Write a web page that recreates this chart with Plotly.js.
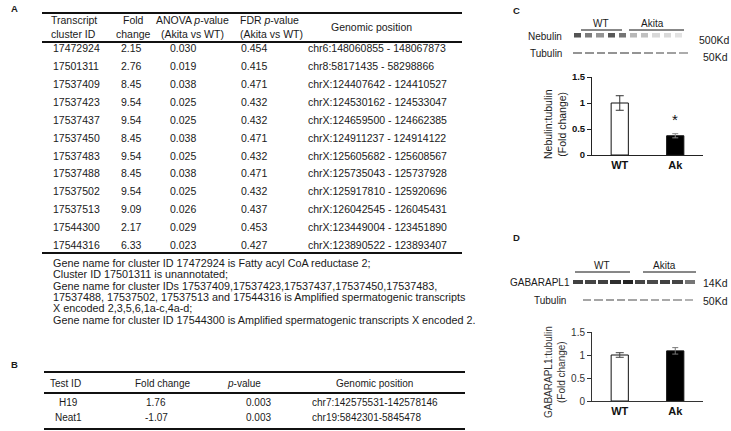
<!DOCTYPE html>
<html><head><meta charset="utf-8">
<script src="https://cdn.plot.ly/plotly-3.0.1.min.js"></script>
<style>html,body{margin:0;padding:0;background:#fff}#chart{width:731px;height:431px}</style>
</head><body><div id="chart"></div>
<script>
// ---------- Panel A table data ----------
const headerA = ['Transcript<br>cluster ID', 'Fold<br>change', 'ANOVA <i>p</i>-value<br>(Akita vs WT)', 'FDR <i>p</i>-value<br>(Akita vs WT)', 'Genomic position'];
const clusterIds = ['17472924','17501311','17537409','17537423','17537437','17537450','17537483','17537488','17537502','17537513','17544300','17544316'];
const foldChanges = ['2.15','2.76','8.45','9.54','9.54','8.45','9.54','8.45','9.54','9.09','2.17','6.33'];
const anovaP = ['0.030','0.019','0.038','0.025','0.025','0.038','0.025','0.038','0.025','0.026','0.029','0.023'];
const fdrP = ['0.454','0.415','0.471','0.432','0.432','0.471','0.432','0.471','0.432','0.437','0.453','0.427'];
const genomicPos = ['chr6:148060855 - 148067873','chr8:58171435 - 58298866','chrX:124407642 - 124410527','chrX:124530162 - 124533047','chrX:124659500 - 124662385','chrX:124911237 - 124914122','chrX:125605682 - 125608567','chrX:125735043 - 125737928','chrX:125917810 - 125920696','chrX:126042545 - 126045431','chrX:123449004 - 123451890','chrX:123890522 - 123893407'];
const footnotesA = [
  'Gene name for cluster ID 17472924 is Fatty acyl CoA reductase 2;',
  'Cluster ID 17501311 is unannotated;',
  'Gene name for cluster IDs 17537409,17537423,17537437,17537450,17537483,',
  '17537488, 17537502, 17537513 and 17544316 is Amplified spermatogenic transcripts',
  'X encoded 2,3,5,6,1a-c,4a-d;',
  'Gene name for cluster ID 17544300 is Amplified spermatogenic transcripts X encoded 2.'
];
// ---------- Panel B table data ----------
const headerB = ['Test ID', 'Fold change', '<i>p</i>-value', 'Genomic position'];
const testIds = ['H19','Neat1'];
const foldB = ['1.76','-1.07'];
const pB = ['0.003','0.003'];
const posB = ['chr7:142575531-142578146','chr19:5842301-5845478'];
// ---------- Panels C / D bar data ----------
const groups = ['WT','Ak'];
const nebulinRatio = [1.0, 0.37];
const nebulinErr = [0.14, 0.04];
const gabaRatio = [1.0, 1.09];
const gabaErr = [0.05, 0.07];
// ---------- Blot band intensities (0 = none, 1 = black) ----------
const nebulinBands = [0.72,0.55,0.45,0.7,0.58, 0.3,0.26,0.16,0.16,0.12];
const tubulinCBands = [0.45,0.45,0.45,0.45,0.45,0.45,0.42,0.4,0.4,0.35];
const gabaBands = [0.8,0.78,0.8,0.88,0.92,0.78,0.76,0.8,0.78,0.58];
const tubulinDBands = [0.38,0.38,0.4,0.4,0.38,0.38,0.36,0.36,0.36,0.32];

const W = 731, H = 431;
const px = x => x / W;
const py = y => 1 - y / H;
const FONT = 'Liberation Sans, Arial, sans-serif';
const TXT = '#1a1a1a';

const annotations = [];
const shapes = [];
function txt(x, y, text, size, anchor, extra) {
  annotations.push(Object.assign({xref:'paper', yref:'paper', x:px(x), y:py(y), text:text, showarrow:false,
    xanchor:anchor||'left', yanchor:'middle', font:{family:FONT, size:size, color:TXT}}, extra||{}));
}
function rule(x0, x1, y, w) {
  shapes.push({type:'line', xref:'paper', yref:'paper', x0:px(x0), x1:px(x1), y0:py(y), y1:py(y), line:{color:'#111', width:w}});
}

// Panel labels
txt(9, 8, '<b>A</b>', 9.5, 'left');
txt(9, 364, '<b>B</b>', 9.5, 'left');
txt(511, 10, '<b>C</b>', 9.5, 'left');
txt(511, 238, '<b>D</b>', 9.5, 'left');

// ---- Table A ----
rule(42, 462, 13, 1.8);
rule(42, 462, 42, 1.8);
rule(42, 462, 253, 1.8);
const fA = 10.5;
txt(49, 27.5, headerA[0], fA, 'left', {align:'left'});
txt(133, 27.5, headerA[1], fA, 'center');
txt(192, 27.5, headerA[2], fA, 'center');
txt(238, 27.5, headerA[3], fA, 'left', {align:'left'});
txt(371, 27.5, headerA[4], fA, 'center');
const rowY0 = 48.5, rowStep = 17.85;
clusterIds.forEach((id, i) => {
  const y = rowY0 + i * rowStep;
  txt(51, y, id, fA, 'left');
  txt(131, y, foldChanges[i], fA, 'center');
  txt(183, y, anovaP[i], fA, 'center');
  txt(239, y, fdrP[i], fA, 'left');
  txt(306, y, genomicPos[i], fA, 'left');
});
footnotesA.forEach((t, i) => txt(51, 263 + i * 11.3, t, 10.8, 'left'));

// ---- Table B ----
rule(44, 465, 372, 1.8);
rule(44, 465, 393, 1.8);
rule(44, 465, 429, 1.8);
const fB = 10;
txt(48, 383, headerB[0], fB, 'left');
txt(162, 383, headerB[1], fB, 'center');
txt(244, 383, headerB[2], fB, 'center');
txt(374, 383, headerB[3], fB, 'center');
testIds.forEach((id, i) => {
  const y = 402 + i * 15;
  txt(68, y, id, fB, 'center');
  txt(156, y, foldB[i], fB, 'center');
  txt(258, y, pB[i], fB, 'center');
  txt(310, y, posB[i], fB, 'left');
});

// ---- Blot labels C ----
txt(601, 23, 'WT', 10, 'center');
txt(652, 23, 'Akita', 10, 'center');
rule(581, 622, 30, 1);
rule(629, 684, 30, 1);
txt(564, 36, 'Nebulin', 10, 'right');
txt(697, 40, '500Kd', 10.5, 'left');
txt(564, 53, 'Tubulin', 10, 'right');
txt(701, 57, '50Kd', 10.5, 'left');
// ---- Blot labels D ----
txt(602, 265, 'WT', 10, 'center');
txt(664, 265, 'Akita', 10, 'center');
rule(575, 630, 272, 1);
rule(643, 696, 272, 1);
txt(572, 282, 'GABARAPL1', 10, 'right');
txt(701, 283, '14Kd', 10.5, 'left');
txt(568, 300, 'Tubulin', 10, 'right');
txt(701, 301, '50Kd', 10.5, 'left');

// y titles
annotations.push({xref:'paper', yref:'paper', x:px(555), y:py(124), text:'Nebulin:tubulin<br>(Fold change)', textangle:-90,
  showarrow:false, xanchor:'center', yanchor:'middle', font:{family:FONT, size:10.5, color:TXT}});
annotations.push({xref:'paper', yref:'paper', x:px(555), y:py(372), text:'GABARAPL1:tubulin<br>(Fold change)', textangle:-90,
  showarrow:false, xanchor:'center', yanchor:'middle', font:{family:FONT, size:10, color:'#333'}});
// significance star
annotations.push({xref:'x', yref:'y', x:groups[1], y:nebulinRatio[1] + nebulinErr[1] + 0.28, text:'*', showarrow:false,
  font:{family:FONT, size:15, color:'#111'}, yanchor:'middle'});

const barW = 0.31;
function barTrace(xa, ya, i, vals, errs, errColor) {
  return {type:'bar', x:[groups[i]], y:[vals[i]], xaxis:xa, yaxis:ya, width:barW,
    marker:{color: i === 0 ? '#ffffff' : '#000000', line:{color:'#111', width:1}},
    error_y:{type:'data', array:[errs[i]], color:errColor, thickness:1, width:i===0?4:3},
    hoverinfo:'skip', showlegend:false};
}
const bandScale = [[0,'#ffffff'],[1,'#111111']];
function blot(xa, ya, bands, gap) {
  return {type:'heatmap', z:[bands], xaxis:xa, yaxis:ya, zmin:0, zmax:1, colorscale:bandScale,
    showscale:false, xgap:gap, hoverinfo:'skip'};
}

const data = [
  barTrace('x','y',0,nebulinRatio,nebulinErr,'#333'),
  barTrace('x','y',1,nebulinRatio,nebulinErr,'#888'),
  barTrace('x2','y2',0,gabaRatio,gabaErr,'#444'),
  barTrace('x2','y2',1,gabaRatio,gabaErr,'#777'),
  blot('x3','y3',nebulinBands,4),
  blot('x4','y4',tubulinCBands,3),
  blot('x5','y5',gabaBands,2),
  blot('x6','y6',tubulinDBands,3)
];

const hidden = d => ({domain:d, visible:false, fixedrange:true});
const layout = {
  width:W, height:H, margin:{l:0,r:0,t:0,b:0}, paper_bgcolor:'#fff', plot_bgcolor:'rgba(0,0,0,0)',
  barmode:'overlay', showlegend:false, font:{family:FONT, color:TXT},
  xaxis:{domain:[px(592),px(703)], anchor:'y', type:'category', range:[-0.5,1.5], showline:true, linecolor:'#222', linewidth:1,
    ticks:'', tickfont:{family:FONT, size:11, weight:'bold', color:'#111'}, showgrid:false, zeroline:false, fixedrange:true},
  yaxis:{domain:[py(155),py(77)], anchor:'x', range:[0,1.5], dtick:0.5, showline:true, linecolor:'#222', linewidth:1,
    ticks:'outside', ticklen:4, tickcolor:'#222', tickfont:{family:FONT, size:9.5, weight:'bold', color:'#111'},
    showgrid:false, zeroline:false, fixedrange:true},
  xaxis2:{domain:[px(592),px(703)], anchor:'y2', type:'category', range:[-0.5,1.5], showline:true, linecolor:'#333', linewidth:1,
    ticks:'', tickfont:{family:FONT, size:11, weight:'bold', color:'#111'}, showgrid:false, zeroline:false, fixedrange:true},
  yaxis2:{domain:[py(401),py(332)], anchor:'x2', range:[0,1.5], dtick:0.5, showline:true, linecolor:'#333', linewidth:1,
    ticks:'outside', ticklen:4, tickcolor:'#333', tickfont:{family:FONT, size:10, color:'#333'},
    showgrid:false, zeroline:false, fixedrange:true},
  xaxis3:hidden([px(572),px(684)]), yaxis3:hidden([py(37.5),py(33)]),
  xaxis4:hidden([px(572),px(690)]), yaxis4:hidden([py(54),py(52)]),
  xaxis5:hidden([px(572),px(696)]), yaxis5:hidden([py(284),py(280)]),
  xaxis6:hidden([px(582),px(695)]), yaxis6:hidden([py(301),py(299)]),
  annotations:annotations, shapes:shapes
};
layout.xaxis3.anchor='y3'; layout.yaxis3.anchor='x3';
layout.xaxis4.anchor='y4'; layout.yaxis4.anchor='x4';
layout.xaxis5.anchor='y5'; layout.yaxis5.anchor='x5';
layout.xaxis6.anchor='y6'; layout.yaxis6.anchor='x6';

Plotly.newPlot('chart', data, layout, {staticPlot:true, displayModeBar:false});
</script>
</body></html>
